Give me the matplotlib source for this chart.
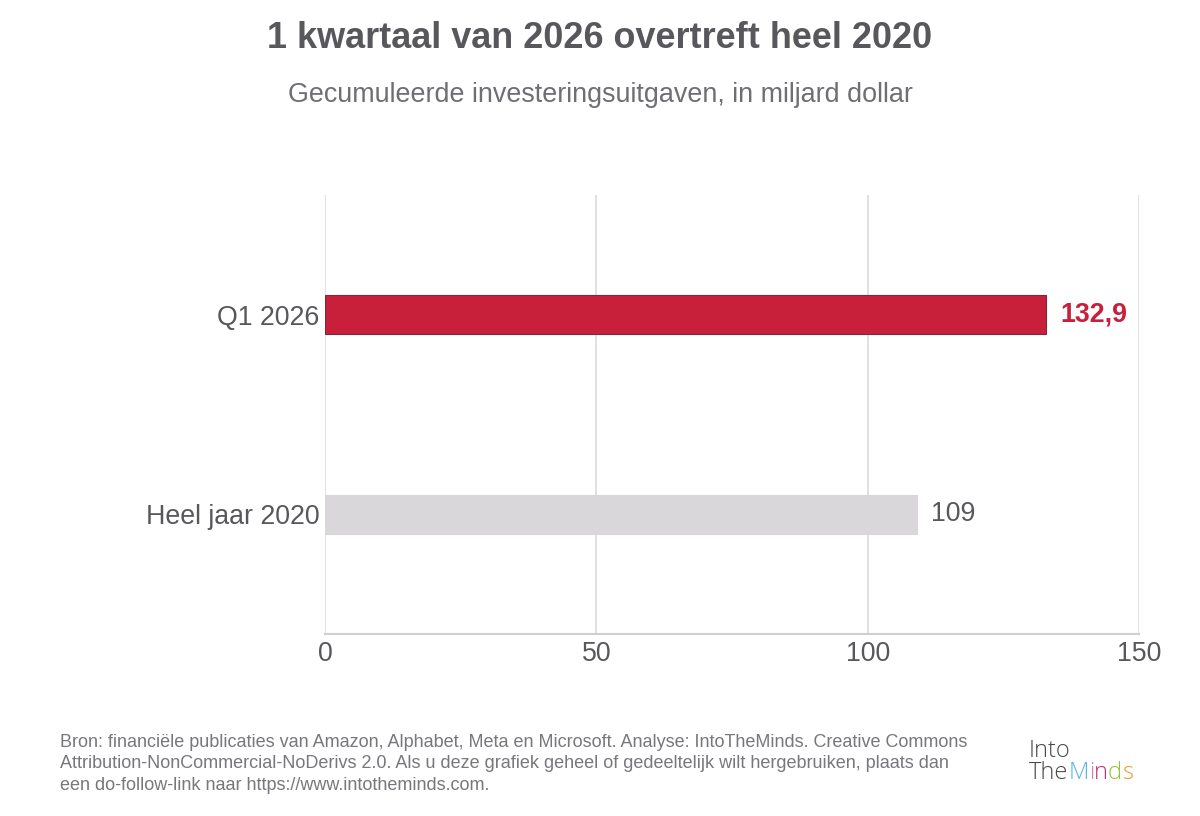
import matplotlib
matplotlib.use("Agg")
import matplotlib.pyplot as plt

categories = ["Heel jaar 2020", "Q1 2026"]
values = [109, 132.9]
value_labels = ["109", "132,9"]
bar_colors = ["#D9D7DA", "#C8203A"]
edge_colors = ["#D9D7DA", "#7A2A3A"]
label_colors = ["#58575B", "#C8203A"]
label_weights = ["normal", "bold"]
xticks = [0, 50, 100, 150]

plt.rcParams['font.family'] = ['Liberation Sans', 'DejaVu Sans']

fig = plt.figure(figsize=(12, 8.16), dpi=100)
fig.patch.set_facecolor("white")
ax = fig.add_axes([325/1200, 1-634/816, (1139-325)/1200, (634-195)/816])
ax.set_facecolor("white")

ypos = list(range(len(categories)))
ax.barh(ypos, values, height=0.195, color=bar_colors, edgecolor=edge_colors,
        linewidth=0.8, zorder=3)
for y, v, t, c, w in zip(ypos, values, value_labels, label_colors, label_weights):
    ax.text(v + 2.6, y, t, va="center", ha="left", fontsize=19.3, color=c,
            fontweight=w, zorder=4)

ax.set_xlim(0, 150)
ax.set_ylim(-0.6, 1.6)
ax.set_xticks(xticks)
ax.set_xticklabels([str(x) for x in xticks], fontsize=19.3, color="#58575B")
ax.set_yticks(ypos)
ax.set_yticklabels(categories, fontsize=19.3, color="#58575B")
ax.tick_params(axis="both", length=0, pad=4)
ax.tick_params(axis="x", pad=5)
ax.grid(axis="x", color="#DCDCDC", linewidth=1.2, zorder=0)
for s in ["top", "right", "left"]:
    ax.spines[s].set_visible(False)
ax.spines["bottom"].set_color("#CFCFCF")
ax.spines["bottom"].set_linewidth(1.5)

fig.text(0.5, 1-38/816, "1 kwartaal van 2026 overtreft heel 2020", ha="center",
         va="center", fontsize=25.9, fontweight="bold", color="#58575B")
fig.text(0.5, 1-95/816, "Gecumuleerde investeringsuitgaven, in miljard dollar",
         ha="center", va="center", fontsize=19.4, color="#6E6E73")

footer = ("Bron: financiële publicaties van Amazon, Alphabet, Meta en Microsoft. Analyse: IntoTheMinds. Creative Commons\n"
          "Attribution-NonCommercial-NoDerivs 2.0. Als u deze grafiek geheel of gedeeltelijk wilt hergebruiken, plaats dan\n"
          "een do-follow-link naar https://www.intotheminds.com.")
fig.text(60/1200, 1-764/816, footer, ha="left", va="center", fontsize=13,
         color="#77777C", linespacing=1.36)

# logo text: "Into" / "The" as one two-line text, then coloured "Minds"
logo_font = ["Open Sans", "DejaVu Sans"]
renderer = fig.canvas.get_renderer()
fig.text(1029/1200, 1-779/816, "Into\nThe", ha="left", va="baseline", fontsize=17,
         color="#4A4A4A", family=logo_font, fontweight="light", linespacing=0.9,
         multialignment="left")
probe = fig.text(1029/1200, 1-779/816, "The", ha="left", va="baseline", fontsize=17,
                 family=logo_font, fontweight="light")
x = 1029 + probe.get_window_extent(renderer=renderer).width
probe.remove()
logo_parts = [("M", "#5BB5E0"), ("i", "#E07AB0"), ("n", "#C0307F"),
              ("d", "#8DC63F"), ("s", "#F39B3B")]
for txt, col in logo_parts:
    t = fig.text(x/1200, 1-779/816, txt, ha="left", va="baseline", fontsize=17,
                 color=col, family=logo_font, fontweight="light")
    x += t.get_window_extent(renderer=renderer).width

fig.savefig("out.png", dpi=100, facecolor="white")
